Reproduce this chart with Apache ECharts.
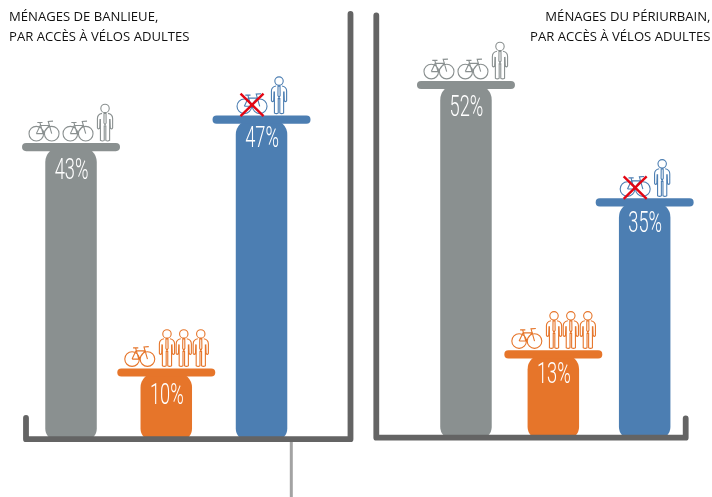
<!DOCTYPE html>
<html><head><meta charset="utf-8">
<style>html,body{margin:0;padding:0;background:#fff}#c{width:712px;height:497px}</style>
<script src="https://cdn.jsdelivr.net/npm/echarts@6/dist/echarts.min.js"></script>
</head><body><div id="c"></div>
<script>
const categories = ["Plus de vélos que d'adultes", "Moins de vélos que d'adultes", "Aucun vélo"];
const banlieueValues = [43, 10, 47];
const periurbainValues = [52, 13, 35];
const titleBanlieue = "MÉNAGES DE BANLIEUE,\nPAR ACCÈS À VÉLOS ADULTES";
const titlePeriurbain = "MÉNAGES DU PÉRIURBAIN,\nPAR ACCÈS À VÉLOS ADULTES";
const colors = ["#8a9090", "#e6752a", "#4c7eb2"];

// pictogram row above each cap: [kind, offset from bar centre]
const iconRows = [
  [["bike", -27], ["bike", 7], ["person", 34]],
  [["bike", -26.5], ["person", 0.7], ["person", 17.5], ["person", 34.5]],
  [["bike", -9.5, true], ["person", 17.5]]
];
const BIKE = "M-15,-7.3a7.3,7.3 0 1,0 14.6,0a7.3,7.3 0 1,0 -14.6,0" +
  "M0.4,-7.3a7.3,7.3 0 1,0 14.6,0a7.3,7.3 0 1,0 -14.6,0" +
  "M-7.7,-7.3L-1,-7.3L5.2,-15.5L-3.8,-15.5L-7.7,-7.3" +
  "M-1,-7.3L-4.2,-18.5M-6.7,-18.5L-1.5,-18.5" +
  "M7.7,-7.3L4.2,-19.5L9,-19.8";
const PERSON = "M-4.2,-32.5a4.2,4.2 0 1,0 8.4,0a4.2,4.2 0 1,0 -8.4,0" +
  "M-3,-27.6C-6,-27 -7.6,-25.5 -7.6,-22.5L-7.6,-13Q-7,-11 -5.3,-13L-5,-22" +
  "M3,-27.6C6,-27 7.6,-25.5 7.6,-22.5L7.6,-13Q7,-11 5.3,-13L5,-22" +
  "M-4.6,-22L-4.6,-0.6Q-2.6,0.6 -0.8,-0.6L-0.8,-15L0.8,-15L0.8,-0.6Q2.6,0.6 4.6,-0.6L4.6,-22" +
  "M-1,-27.4L1,-27.4L1.1,-18L0,-16L-1.1,-18Z";

const BAR_W = 51.5, CAP_W = 98, CAP_H = 8.2;

function renderer(floorValue, nudge, labelDrop) {
  return function (params, api) {
    const i = params.dataIndex;
    const v = api.value(1);
    const p = api.coord([api.value(0), v]);
    const floorY = api.coord([api.value(0), floorValue])[1];
    const cx = p[0] + nudge[i], cy = p[1];
    const col = colors[i];
    const kids = [
      { type: "rect", shape: { x: cx - BAR_W / 2, y: cy, width: BAR_W, height: floorY - cy, r: [15, 15, 12, 12] }, style: { fill: col } },
      { type: "rect", shape: { x: cx - CAP_W / 2, y: cy - CAP_H / 2, width: CAP_W, height: CAP_H, r: CAP_H / 2 }, style: { fill: col } },
      { type: "text", x: cx + 0.5, y: cy + labelDrop[i], scaleX: 0.63,
        style: { text: v + "%", fill: "#fff", font: "300 29px Roboto", textAlign: "center", textVerticalAlign: "middle" } }
    ];
    iconRows[i].forEach(function (ic) {
      const x = cx + ic[1], y = cy - CAP_H / 2 - 2;
      kids.push({ type: "path", x: x, y: y, shape: { pathData: ic[0] === "bike" ? BIKE : PERSON },
        style: { fill: null, stroke: col, lineWidth: 1.1 } });
      if (ic[2]) {
        kids.push({ type: "line", shape: { x1: x - 11.5, y1: y - 20, x2: x + 11.5, y2: y + 2.5 }, style: { stroke: "#e30613", lineWidth: 2.4 } });
        kids.push({ type: "line", shape: { x1: x + 11.5, y1: y - 20, x2: x - 11.5, y2: y + 2.5 }, style: { stroke: "#e30613", lineWidth: 2.4 } });
      }
    });
    return { type: "group", children: kids };
  };
}
const toData = vals => vals.map((v, i) => [i, v]);
const frameStyle = { stroke: "#646464", lineWidth: 5.8, lineCap: "round", lineJoin: "round", fill: null };
const titleStyle = { fontFamily: "Open Sans", fontSize: 13.1, lineHeight: 19.5, color: "#111", fontWeight: 400 };

const chart = echarts.init(document.getElementById("c"), null, { renderer: "canvas" });
chart.setOption({
  animation: false,
  backgroundColor: "#fff",
  title: [
    { text: titleBanlieue, left: 9, top: 8, padding: 0, textStyle: titleStyle, textAlign: "left" },
    { text: titlePeriurbain, left: 710.5, top: 8, padding: 0, textStyle: Object.assign({ align: "right" }, titleStyle), textAlign: "right" }
  ],
  grid: [
    { left: 23.4, width: 285.75, top: 30.9, height: 409.9 },
    { left: 421.3, width: 268.05, top: 29.7, height: 414.6 }
  ],
  xAxis: [
    { type: "category", gridIndex: 0, data: categories, show: false },
    { type: "category", gridIndex: 1, data: categories, show: false }
  ],
  yAxis: [
    { type: "value", gridIndex: 0, min: 0, max: 60, show: false },
    { type: "value", gridIndex: 1, min: 0, max: 60, show: false }
  ],
  series: [
    { type: "custom", name: "Banlieue", xAxisIndex: 0, yAxisIndex: 0, clip: false, encode: { x: 0, y: 1 },
      renderItem: renderer(0, [0, 0, 0], [24.5, 24, 20.5]), data: toData(banlieueValues) },
    { type: "custom", name: "Périurbain", xAxisIndex: 1, yAxisIndex: 1, clip: false, encode: { x: 0, y: 1 },
      renderItem: renderer(0.75, [0, -2, 0], [23.5, 21.5, 22.2]), data: toData(periurbainValues) }
  ],
  graphic: [
    { type: "polyline", z: 100, shape: { points: [[26, 418], [26, 439.2], [350.5, 439.2], [350.5, 14]] }, style: frameStyle },
    { type: "polyline", z: 100, shape: { points: [[376.3, 15.5], [376.3, 437.7], [685.7, 437.7], [685.7, 418.5]] }, style: frameStyle },
    { type: "line", z: 99, shape: { x1: 291.3, y1: 442, x2: 291.3, y2: 497 }, style: { stroke: "#a3a3a3", lineWidth: 3 } }
  ]
});
</script></body></html>
